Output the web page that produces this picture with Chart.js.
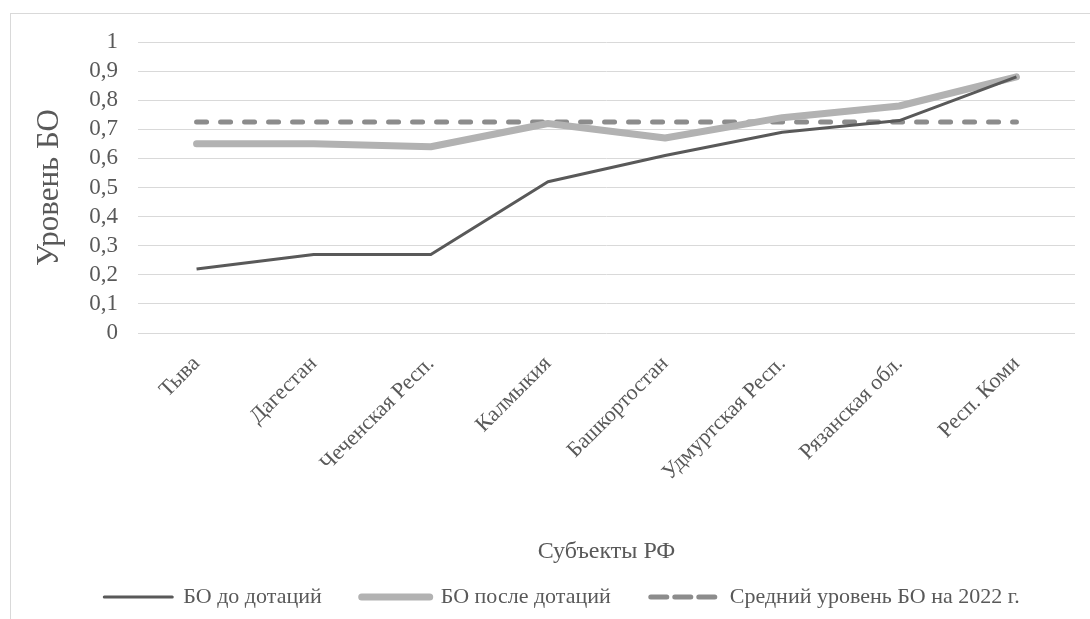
<!DOCTYPE html>
<html>
<head>
<meta charset="utf-8">
<script src="https://cdn.jsdelivr.net/npm/chart.js@4"></script>
<style>
  html, body { margin: 0; padding: 0; background: #fff; }
  #wrap { position: relative; width: 1090px; height: 619px; overflow: hidden; }
  #frame { position: absolute; left: 10px; top: 13px; width: 2000px; height: 2000px; border: 1px solid #d9d9d9; }
  #box { position: absolute; left: 0; top: 0; width: 1090px; height: 619px; }
</style>
</head>
<body>
<div id="wrap">
  <div id="frame"></div>
  <div id="box"><canvas id="boChart"></canvas></div>
</div>
<script>
var regions = ["Тыва", "Дагестан", "Чеченская Респ.", "Калмыкия", "Башкортостан", "Удмуртская Респ.", "Рязанская обл.", "Респ. Коми"];
var boBefore = [0.22, 0.27, 0.27, 0.52, 0.61, 0.69, 0.73, 0.88];
var boAfter = [0.65, 0.65, 0.64, 0.72, 0.67, 0.74, 0.78, 0.88];
var boAverage = [0.725, 0.725, 0.725, 0.725, 0.725, 0.725, 0.725, 0.725];
var seriesNames = ["БО до дотаций", "БО после дотаций", "Средний уровень БО на 2022 г."];

var serif = "'Liberation Serif', 'Times New Roman', serif";
var textColor = '#595959';

var boCtx = document.getElementById("boChart");
var boConfig = {
    type: 'line',
    data: {
        labels: regions,
        datasets: [{
            label: seriesNames[0],
            data: boBefore,
            borderColor: '#595959',
            backgroundColor: '#595959',
            borderWidth: 3,
            borderJoinStyle: 'round'
        }, {
            label: seriesNames[1],
            data: boAfter,
            borderColor: '#b2b2b2',
            backgroundColor: '#b2b2b2',
            borderWidth: 7,
            borderCapStyle: 'round',
            borderJoinStyle: 'round'
        }, {
            label: seriesNames[2],
            data: boAverage,
            borderColor: '#8c8c8c',
            backgroundColor: '#8c8c8c',
            borderWidth: 5,
            borderDash: [10, 14],
            borderCapStyle: 'round'
        }]
    },
    options: {
        responsive: true,
        maintainAspectRatio: false,
        animation: false,
        tension: 0,
        elements: { point: { radius: 0, hoverRadius: 0 } },
        layout: { padding: { left: 49, right: 15, top: 42, bottom: 1 } },
        plugins: {
            tooltip: { enabled: false },
            legend: {
                position: 'bottom',
                labels: {
                    boxWidth: 68,
                    boxHeight: 0,
                    padding: 40,
                    color: textColor,
                    font: { family: serif, size: 22 }
                }
            }
        },
        scales: {
            x: {
                offset: true,
                grid: { display: false },
                border: { display: false },
                ticks: {
                    autoSkip: false,
                    minRotation: 45,
                    maxRotation: 45,
                    padding: 10,
                    color: textColor,
                    font: { family: serif, size: 22 }
                },
                title: {
                    display: true,
                    text: 'Субъекты РФ',
                    color: textColor,
                    font: { family: serif, size: 24 },
                    padding: { top: 0, bottom: -20.4 }
                },
                afterFit: function (scale) { scale.height = 213; }
            },
            y: {
                min: 0,
                max: 1,
                grid: { color: '#d9d9d9', lineWidth: 1, drawTicks: false },
                border: { display: false },
                ticks: {
                    autoSkip: false,
                    stepSize: 0.1,
                    padding: 20,
                    color: textColor,
                    font: { family: serif, size: 23 },
                    callback: function (v) { return String(Math.round(v * 10) / 10).replace('.', ','); }
                },
                title: {
                    display: true,
                    text: 'Уровень БО',
                    color: textColor,
                    font: { family: serif, size: 31 },
                    padding: { top: -17.6, bottom: 0 }
                },
                afterFit: function (scale) { scale.width = 89; }
            }
        }
    }
};
var boChartObj = new Chart(boCtx, boConfig);
</script>
</body>
</html>
